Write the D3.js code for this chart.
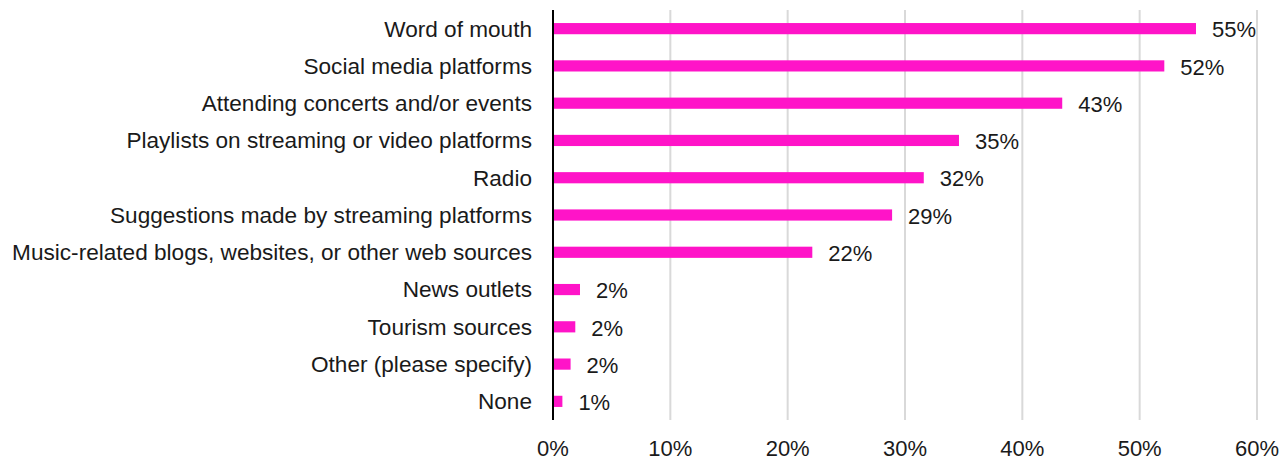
<!DOCTYPE html>
<html><head><meta charset="utf-8">
<script src="https://cdn.jsdelivr.net/npm/d3@7"></script>
<style>body{margin:0;background:#fff}svg{display:block}</style>
</head><body><div id="chart"></div>
<script>
const categories = ["Word of mouth","Social media platforms","Attending concerts and/or events","Playlists on streaming or video platforms","Radio","Suggestions made by streaming platforms","Music-related blogs, websites, or other web sources","News outlets","Tourism sources","Other (please specify)","None"];
const values = [54.8, 52.1, 43.4, 34.6, 31.6, 28.9, 22.1, 2.3, 1.9, 1.5, 0.8];
const valueLabels = ["55%","52%","43%","35%","32%","29%","22%","2%","2%","2%","1%"];
const ticks = [0,10,20,30,40,50,60];

const W=1284,H=460;
const m={left:553,right:27,top:10,bottom:40};
const svg=d3.select("#chart").append("svg").attr("width",W).attr("height",H);
const font="'Liberation Sans', Arial, sans-serif";
const x=d3.scaleLinear().domain([0,60]).range([m.left,W-m.right]);
const y=d3.scaleBand().domain(categories).range([m.top,H-m.bottom]).paddingInner(0.7).paddingOuter(0.35);

svg.append("g").selectAll("line").data(ticks.slice(1)).join("line")
 .attr("x1",d=>x(d)).attr("x2",d=>x(d)).attr("y1",m.top).attr("y2",H-m.bottom)
 .attr("stroke","#d9d9d9").attr("stroke-width",2);

svg.append("g").selectAll("rect").data(categories).join("rect")
 .attr("x",x(0)).attr("y",d=>y(d)).attr("height",y.bandwidth())
 .attr("width",(d,i)=>x(values[i])-x(0)).attr("fill","#ff14c8");

svg.append("line").attr("x1",x(0)).attr("x2",x(0)).attr("y1",m.top).attr("y2",H-m.bottom)
 .attr("stroke","#000").attr("stroke-width",2);

svg.append("g").selectAll("text").data(categories).join("text")
 .attr("x",x(0)-21).attr("y",d=>y(d)+y.bandwidth()/2).attr("dy","0.35em")
 .attr("text-anchor","end").attr("font-family",font).attr("font-size",22.6).attr("fill","#1a1a1a")
 .text(d=>d);

svg.append("g").selectAll("text").data(categories).join("text")
 .attr("x",(d,i)=>x(values[i])+16).attr("y",d=>y(d)+y.bandwidth()/2+1).attr("dy","0.35em")
 .attr("font-family",font).attr("font-size",22).attr("fill","#1a1a1a")
 .text((d,i)=>valueLabels[i]);

svg.append("g").selectAll("text").data(ticks).join("text")
 .attr("x",d=>x(d)).attr("y",448).attr("dy","0.35em").attr("text-anchor","middle")
 .attr("font-family",font).attr("font-size",22).attr("fill","#1a1a1a")
 .text(d=>d+"%");
</script></body></html>
